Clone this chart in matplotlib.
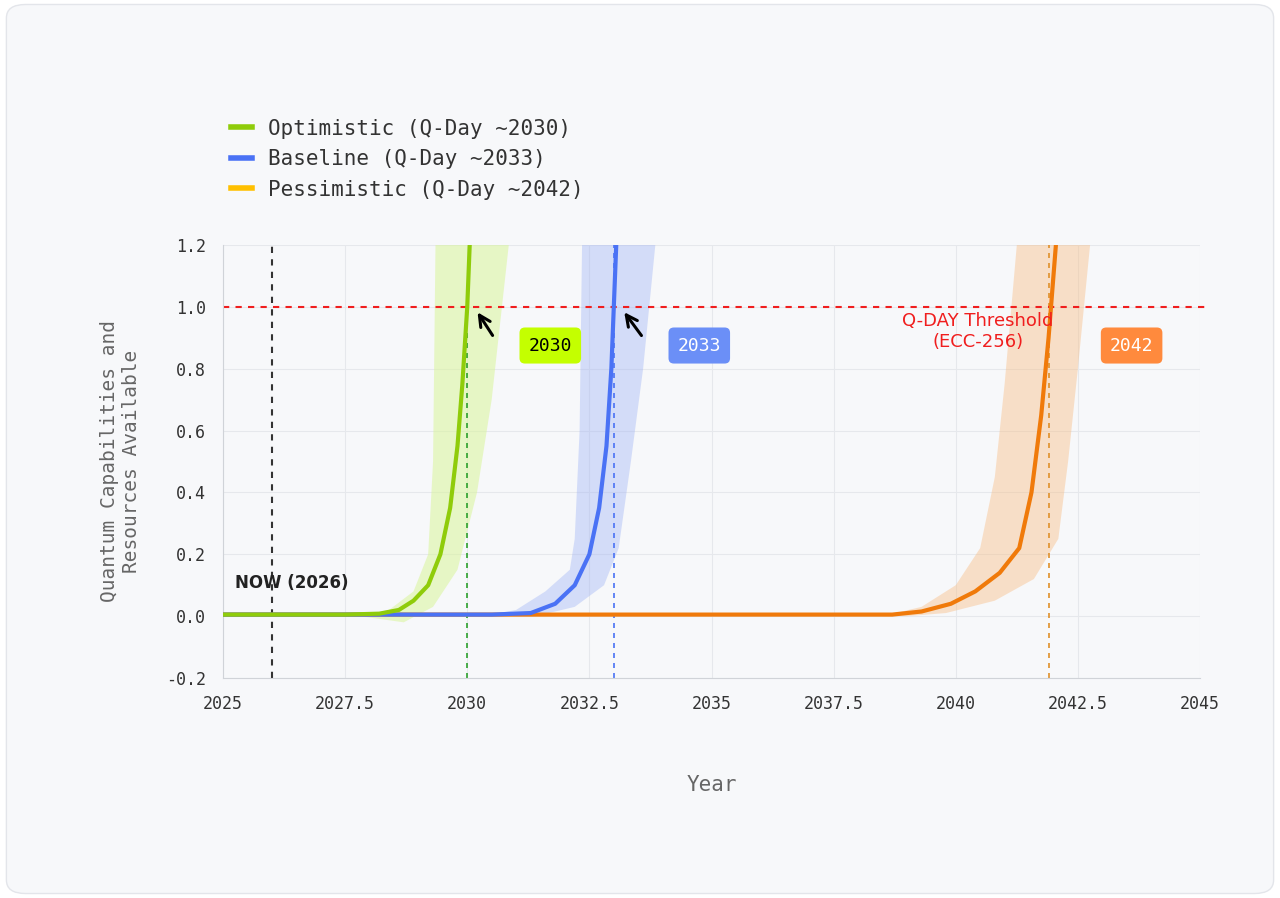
import matplotlib
matplotlib.use("Agg")
import matplotlib.pyplot as plt
from matplotlib.patches import FancyBboxPatch
from matplotlib.lines import Line2D

# Data
opt_x = [2025.0, 2027.5, 2028.2, 2028.6, 2028.9, 2029.2, 2029.45, 2029.65, 2029.8, 2029.9, 2030.0, 2030.05]
opt_y = [0.005, 0.005, 0.008, 0.02, 0.05, 0.1, 0.2, 0.35, 0.55, 0.75, 1.0, 1.2]
base_x = [2025.0, 2030.5, 2031.3, 2031.8, 2032.2, 2032.5, 2032.7, 2032.85, 2032.95, 2033.0, 2033.05]
base_y = [0.005, 0.005, 0.01, 0.04, 0.1, 0.2, 0.35, 0.55, 0.8, 1.0, 1.2]
pes_x = [2025.0, 2038.7, 2039.3, 2039.9, 2040.4, 2040.9, 2041.3, 2041.55, 2041.75, 2041.9, 2042.05]
pes_y = [0.005, 0.005, 0.015, 0.04, 0.08, 0.14, 0.22, 0.4, 0.65, 0.9, 1.2]

opt_band_lx = [2027.8, 2028.4, 2028.9, 2029.2, 2029.3, 2029.35]
opt_band_ly = [0.0, 0.02, 0.08, 0.2, 0.5, 1.2]
opt_band_rx = [2030.85, 2030.5, 2030.2, 2029.8, 2029.3, 2028.7]
opt_band_ry = [1.2, 0.7, 0.4, 0.15, 0.03, -0.02]
base_band_lx = [2030.3, 2031.0, 2031.6, 2032.1, 2032.2, 2032.3, 2032.35]
base_band_ly = [0.0, 0.02, 0.08, 0.15, 0.25, 0.6, 1.2]
base_band_rx = [2033.85, 2033.6, 2033.35, 2033.1, 2032.8, 2032.2, 2031.4]
base_band_ry = [1.2, 0.8, 0.5, 0.22, 0.1, 0.03, 0.0]
pes_band_lx = [2038.5, 2039.3, 2040.0, 2040.5, 2040.8, 2041.0, 2041.25]
pes_band_ly = [0.0, 0.03, 0.1, 0.22, 0.45, 0.75, 1.2]
pes_band_rx = [2042.75, 2042.5, 2042.3, 2042.1, 2041.6, 2040.8, 2039.8, 2039.0]
pes_band_ry = [1.2, 0.8, 0.5, 0.25, 0.12, 0.05, 0.01, 0.0]

labels = ["Optimistic (Q-Day ~2030)", "Baseline (Q-Day ~2033)", "Pessimistic (Q-Day ~2042)"]
qday = [2030, 2033, 2041.9]
xticks = [2025, 2027.5, 2030, 2032.5, 2035, 2037.5, 2040, 2042.5, 2045]
xticklabels = ["2025", "2027.5", "2030", "2032.5", "2035", "2037.5", "2040", "2042.5", "2045"]
yticks = [-0.2, 0.0, 0.2, 0.4, 0.6, 0.8, 1.0, 1.2]

green, blue, orange = "#8fcc0a", "#4a72f5", "#f07a0a"
mono = "DejaVu Sans Mono"
bg = "#f7f8fa"

fig = plt.figure(figsize=(12.8, 8.98), dpi=100, facecolor="white")
card = FancyBboxPatch((0.005, 0.005), 0.99, 0.99, boxstyle="round,pad=0,rounding_size=0.015",
                      transform=fig.transFigure, facecolor=bg, edgecolor="#e3e5ea", lw=1, zorder=-10)
fig.patches.append(card)
ax = fig.add_axes([223/1280, 1-678/898, (1200-223)/1280, (678-245)/898])
ax.set_zorder(1)
ax.set_facecolor(bg)

ax.fill(opt_band_lx + opt_band_rx, opt_band_ly + opt_band_ry, color="#d9f59a", alpha=0.55, lw=0)
ax.fill(base_band_lx + base_band_rx, base_band_ly + base_band_ry, color="#9eb3f5", alpha=0.4, lw=0)
ax.fill(pes_band_lx + pes_band_rx, pes_band_ly + pes_band_ry, color="#f7c08a", alpha=0.45, lw=0)

ax.plot(pes_x, pes_y, color=orange, lw=3, solid_capstyle="round", zorder=3)
ax.plot(base_x, base_y, color=blue, lw=3, solid_capstyle="round", zorder=4)
ax.plot(opt_x, opt_y, color=green, lw=3, solid_capstyle="round", zorder=5)

ax.axvline(2026, color="#333333", ls=(0, (3, 3)), lw=1.5)
ax.plot([qday[0], qday[0]], [-0.2, 1.0], color="#2ca02c", ls=(0, (3, 3)), lw=1.2)
ax.plot([qday[1], qday[1]], [-0.2, 1.2], color=blue, ls=(0, (3, 3)), lw=1.2)
ax.plot([qday[2], qday[2]], [-0.2, 1.2], color="#e0902a", ls=(0, (3, 3)), lw=1.2)
ax.plot([2025, 2045.2], [1.0, 1.0], color="#f01e1e", ls=(0, (3, 3)), lw=1.5, clip_on=False)

ax.text(2025.25, 0.09, "NOW (2026)", fontsize=12, fontweight="bold", color="#222222")
ax.text(2040.45, 0.92, "Q-DAY Threshold\n(ECC-256)", fontsize=13, color="#f01e1e", ha="center", va="center")

for xb, xp in [(2031.7, 2030.18), (2034.75, 2033.18)]:
    ax.annotate("", xy=(xp, 0.99), xytext=(xb - 1.15, 0.9),
                arrowprops=dict(arrowstyle="->", color="black", lw=2.2, mutation_scale=20))
for txt, xb, col, tc in [("2030", 2031.7, "#c4ff00", "black"),
                         ("2033", 2034.75, "#6b8ff7", "white"),
                         ("2042", 2043.6, "#ff8a3d", "white")]:
    ax.text(xb, 0.875, txt, fontsize=13, family=mono, color=tc, ha="center", va="center",
            bbox=dict(boxstyle="round,pad=0.5,rounding_size=0.3", fc=col, ec="none"))

ax.set_xlim(2025, 2045)
ax.set_ylim(-0.2, 1.2)
ax.set_xticks(xticks)
ax.set_xticklabels(xticklabels, family=mono, fontsize=12, color="#333333")
ax.set_yticks(yticks)
ax.set_yticklabels([f"{v:.1f}" for v in yticks], family=mono, fontsize=12, color="#333333")
ax.tick_params(length=0, pad=12)
ax.grid(True, color="#e6e8ec", lw=0.8)
ax.set_axisbelow(True)
for s in ["top", "right"]:
    ax.spines[s].set_visible(False)
for s in ["left", "bottom"]:
    ax.spines[s].set_color("#d0d3d8")
ax.set_xlabel("Year", family=mono, fontsize=15, color="#666666", labelpad=45)
ax.set_ylabel("Quantum Capabilities and\nResources Available", family=mono, fontsize=14,
              color="#666666", labelpad=18)

handles = [Line2D([], [], color=c, lw=4) for c in [green, blue, "#ffc000"]]
fig.legend(handles, labels, loc="upper left", bbox_to_anchor=(212/1280, 1-100/898), frameon=False,
           prop={"family": mono, "size": 15}, handlelength=1.0, labelspacing=0.5, handletextpad=0.8,
           labelcolor="#333333")

fig.savefig("out.png", dpi=100, facecolor="white")
